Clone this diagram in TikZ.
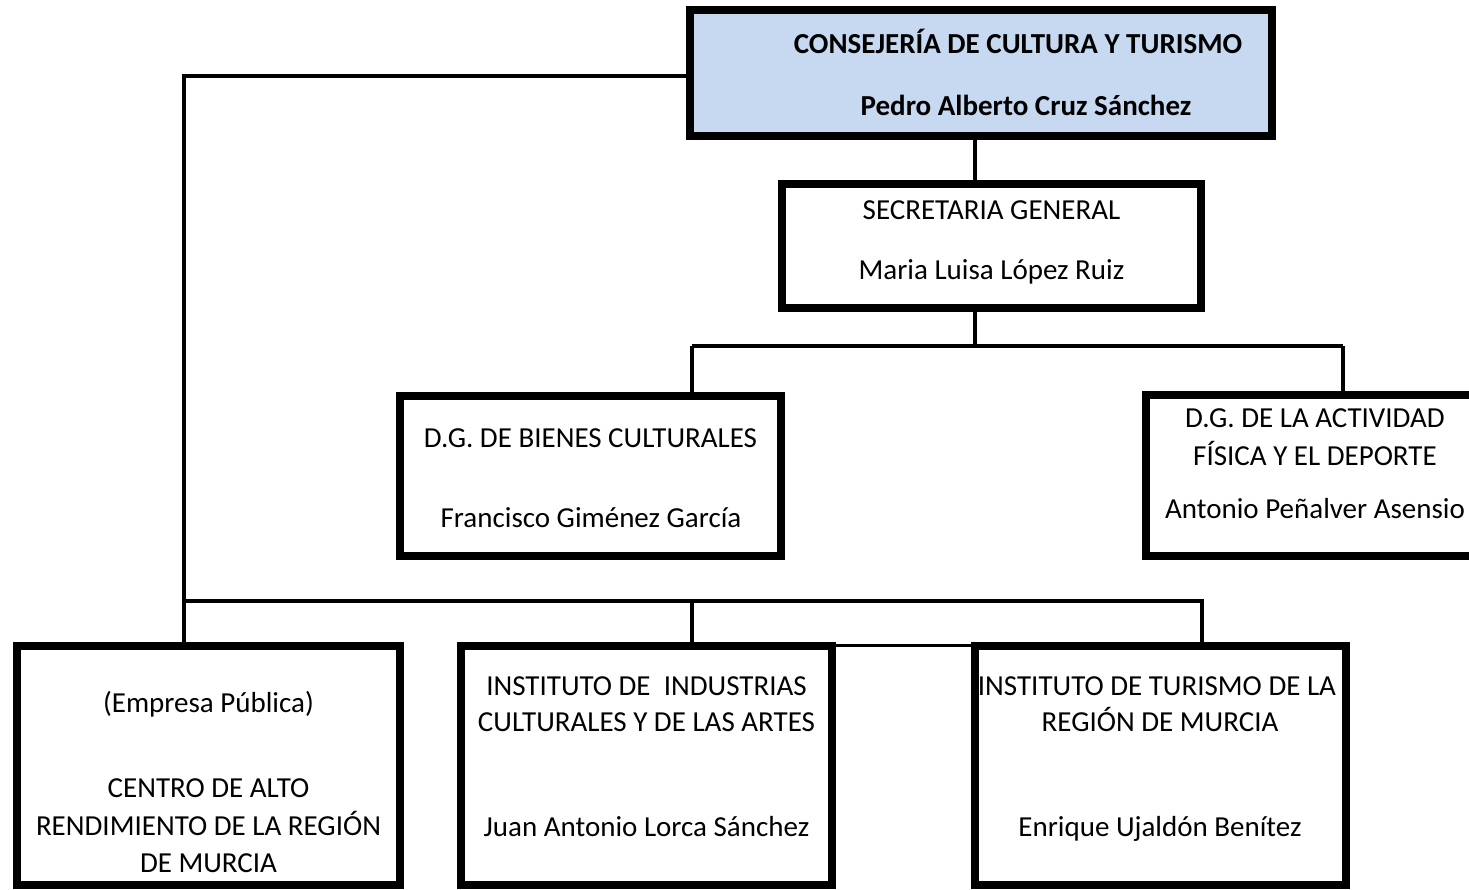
\documentclass[tikz,border=0pt]{standalone}
\usepackage{fontspec}
\setmainfont{Carlito}
\definecolor{topfill}{HTML}{C6D9F1}
\pgfdeclarelayer{bg}
\pgfsetlayers{bg,main}
\tikzset{
  orgbox/.style={draw=black, line width=8pt, inner sep=0pt, fill=white},
  link/.style={draw=black, line width=3.5pt},
  txt/.style={anchor=base, inner sep=0pt, font=\fontsize{29}{34}\selectfont},
  btxt/.style={txt, font=\fontsize{29}{34}\selectfont\bfseries},
}
\begin{document}
\begin{tikzpicture}[x=1pt,y=-1pt]
\useasboundingbox (0,0) rectangle (1469,890);
\clip (0,0) rectangle (1469,890);
% junction coordinates
\coordinate (corner) at (184,76);
\coordinate (busL) at (184,601);
\coordinate (busR) at (1202,601);
\coordinate (busM) at (692,601);
\coordinate (bus2L) at (692,346);
\coordinate (bus2R) at (1343,346);
\coordinate (sj) at (975,346);
% boxes
\node[orgbox, fill=topfill, minimum width=582pt, minimum height=126pt] (top) at (981,73) {};
\node[orgbox, minimum width=419pt, minimum height=124pt] (sec) at (991.5,246) {};
\node[orgbox, minimum width=381pt, minimum height=160pt] (dgb) at (590.5,476) {};
\node[orgbox, minimum width=330pt, minimum height=161pt] (dga) at (1311,475.5) {};
\node[orgbox, minimum width=383pt, minimum height=239pt] (b1) at (208.5,765.5) {};
\node[orgbox, minimum width=371pt, minimum height=239pt] (b2) at (646.5,765.5) {};
\node[orgbox, minimum width=371pt, minimum height=239pt] (b3) at (1160.5,765.5) {};
% links (behind boxes)
\begin{pgfonlayer}{bg}
\draw[link] (top.west |- corner) -- (corner) -- (b1.north -| corner);
\draw[link] (busL) -- (busR) -- (b3.north -| busR);
\draw[link] (busM) -- (b2.north -| busM);
\draw[link] (top.south -| sj) -- (sec.north -| sj);
\draw[link] (sec.south -| sj) -- (sj);
\draw[link] (bus2L) -- (bus2R);
\draw[link] (bus2L) -- (dgb.north -| bus2L);
\draw[link] (bus2R) -- (dga.north -| bus2R);
\draw[draw=black, line width=3pt] (b2.north east |- 0,645) -- (b3.north west |- 0,645);
\end{pgfonlayer}
% texts
\node[btxt] (t1) at (1018,54) {CONSEJERÍA DE CULTURA Y TURISMO};
\node[btxt] (t2) at (1026,116) {Pedro Alberto Cruz Sánchez};
\node[txt] (s1) at (991.5,220) {SECRETARIA GENERAL};
\node[txt] (s2) at (991.5,280) {Maria Luisa López Ruiz};
\node[txt] (g1) at (590.5,447) {D.G. DE BIENES CULTURALES};
\node[txt] (g2) at (591,527) {Francisco Giménez García};
\node[txt] (a1) at (1315,427) {D.G. DE LA ACTIVIDAD};
\node[txt] (a2) at (1315,465) {FÍSICA Y EL DEPORTE};
\node[txt] (a3) at (1315,518) {Antonio Peñalver Asensio};
\node[txt] (c1) at (208.5,712) {(Empresa Pública)};
\node[txt] (c2) at (208.5,797) {CENTRO DE ALTO};
\node[txt] (c3) at (208.5,835) {RENDIMIENTO DE LA REGIÓN};
\node[txt] (c4) at (208.5,872) {DE MURCIA};
\node[txt] (i1) at (646.5,695) {INSTITUTO DE\ \ INDUSTRIAS};
\node[txt] (i2) at (646.5,731) {CULTURALES Y DE LAS ARTES};
\node[txt] (i3) at (646.5,836) {Juan Antonio Lorca Sánchez};
\node[txt] (r1) at (1157,695) {INSTITUTO DE TURISMO DE LA};
\node[txt] (r2) at (1160,731) {REGIÓN DE MURCIA};
\node[txt] (r3) at (1160,836) {Enrique Ujaldón Benítez};
\end{tikzpicture}
\end{document}
